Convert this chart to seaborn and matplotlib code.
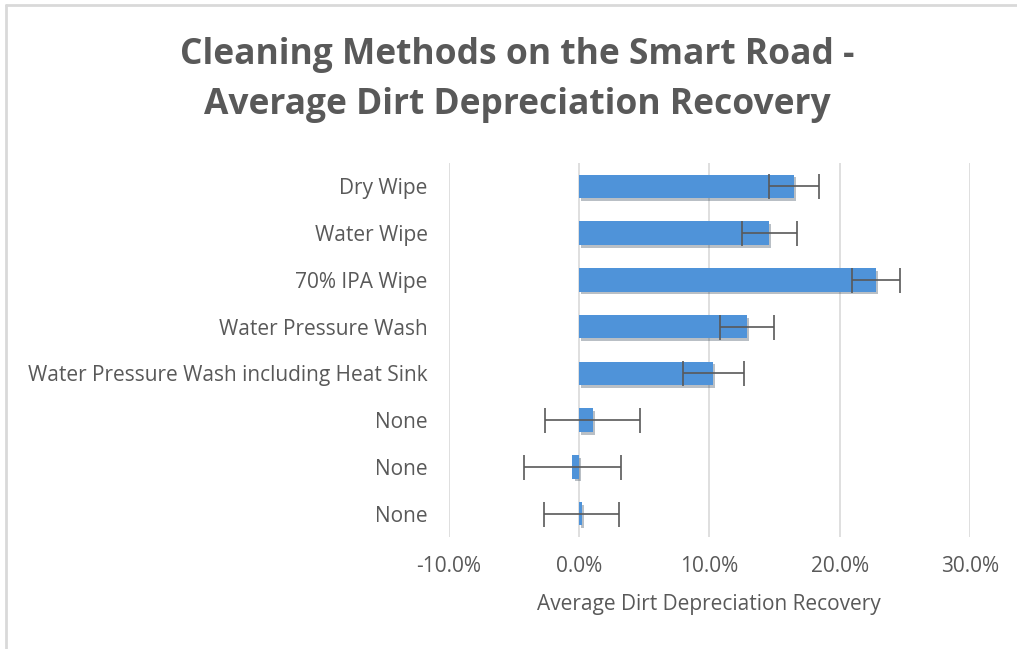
import numpy as np
import pandas as pd
import seaborn as sns
import matplotlib.pyplot as plt
from matplotlib.lines import Line2D
from matplotlib import patheffects as pe
from matplotlib.ticker import FuncFormatter

methods = ["Dry Wipe", "Water Wipe", "70% IPA Wipe", "Water Pressure Wash",
           "Water Pressure Wash including Heat Sink", "None ", "None  ", "None   "]
recovery = [16.5, 14.6, 22.8, 12.9, 10.3, 1.05, -0.5, 0.2]
err = [1.9, 2.1, 1.85, 2.1, 2.35, 3.65, 3.7, 2.9]

df = pd.DataFrame({"method": methods, "recovery": recovery, "err": err})

sns.set_theme(style="white")
plt.rcParams["font.family"] = ["Open Sans", "DejaVu Sans"]
grey = "#595959"

fig = plt.figure(figsize=(10.17, 6.49), dpi=100)
ax = fig.add_axes([448.6 / 1017, 1 - 537 / 649, (970 - 448.6) / 1017, (537 - 163) / 649])

sns.barplot(data=df, x="recovery", y="method", orient="h", color="#4f93d9",
            width=0.5, saturation=1, ax=ax, zorder=3,
            edgecolor="none")
for p in ax.patches:
    p.set_path_effects([pe.SimplePatchShadow(offset=(1.5, -2), alpha=0.3), pe.Normal()])

ax.errorbar(df["recovery"], np.arange(len(df)), xerr=df["err"], fmt="none",
            ecolor=grey, elinewidth=1.2, capsize=9, capthick=1.2, zorder=4)

ax.set_xlim(-10, 30)
ax.set_ylim(len(df) - 0.5, -0.5)
ax.set_xticks([-10, 0, 10, 20, 30])
ax.xaxis.set_major_formatter(FuncFormatter(lambda v, _: f"{v:.1f}%"))
ax.grid(axis="x", color="#d9d9d9", linewidth=1.2, zorder=0)
ax.set_axisbelow(True)
sns.despine(ax=ax, left=True, bottom=True)
ax.tick_params(axis="both", length=0, labelsize=15, labelcolor=grey)
ax.tick_params(axis="x", pad=14)
ax.tick_params(axis="y", pad=15)
ax.set_yticks(range(len(methods)))
ax.set_yticklabels([m.strip() for m in methods])
ax.set_ylabel("")
ax.set_xlabel("Average Dirt Depreciation Recovery", fontsize=15, color=grey, labelpad=12)

fig.text(517 / 1017, 1 - 55 / 649, "Cleaning Methods on the Smart Road -", ha="center", va="center",
         fontsize=25.5, fontweight="bold", color=grey)
fig.text(517 / 1017, 1 - 105 / 649, "Average Dirt Depreciation Recovery", ha="center", va="center",
         fontsize=25.5, fontweight="bold", color=grey)

# chart frame
fig.add_artist(Line2D([6 / 1017, 6 / 1017], [0, 1 - 5 / 649], transform=fig.transFigure,
                      color="#d9d9d9", linewidth=2))
fig.add_artist(Line2D([6 / 1017, 1], [1 - 5 / 649, 1 - 5 / 649], transform=fig.transFigure,
                      color="#d9d9d9", linewidth=2))

fig.savefig("out.png", dpi=100)
